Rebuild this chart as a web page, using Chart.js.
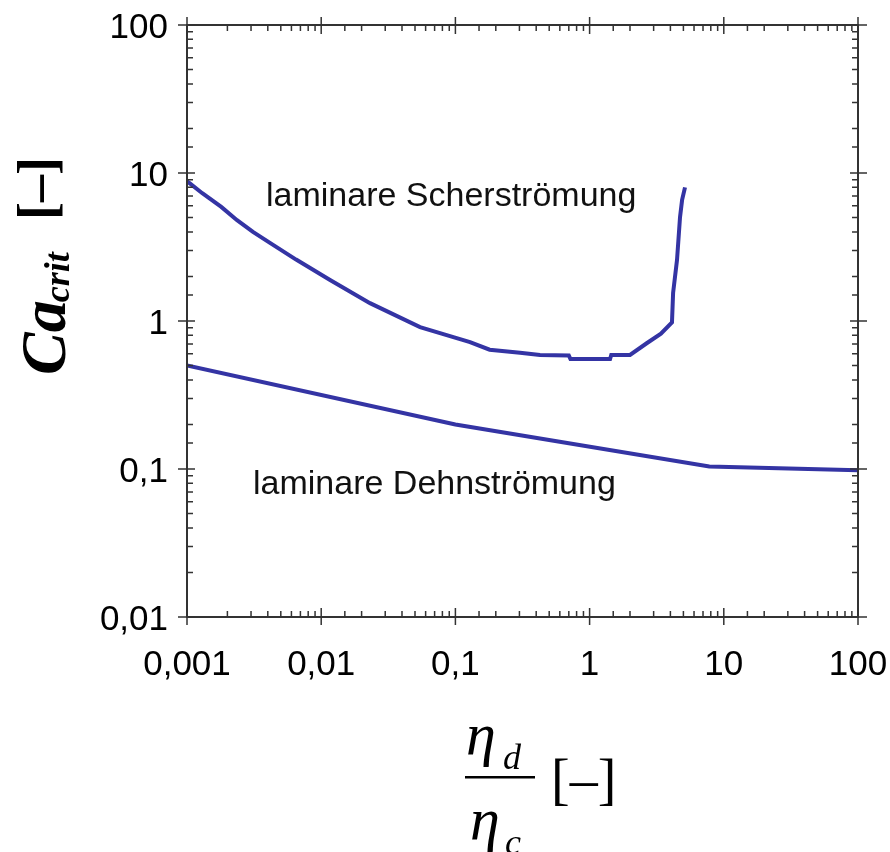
<!DOCTYPE html>
<html>
<head>
<meta charset="utf-8">
<script src="https://cdn.jsdelivr.net/npm/chart.js@4/dist/chart.umd.min.js"></script>
<style>
  html, body { margin: 0; padding: 0; background: #fff; }
  canvas { display: block; }
</style>
</head>
<body>
<canvas id="ca-chart" width="890" height="852"></canvas>
<script>
// decade ticks, German decimal comma
var xTicks = [0.001, 0.01, 0.1, 1, 10, 100];
var xTickLabels = ['0,001', '0,01', '0,1', '1', '10', '100'];
var yTicks = [0.01, 0.1, 1, 10, 100];
var yTickLabels = ['0,01', '0,1', '1', '10', '100'];

// laminare Scherströmung (viscosity ratio vs. critical capillary number)
var scherX = [0.001, 0.00105, 0.0013, 0.0018, 0.00236, 0.0031, 0.00415, 0.0065, 0.01164, 0.0231, 0.0545, 0.1285, 0.18, 0.303, 0.427, 0.70, 0.72, 1.42, 1.45, 2.0, 2.68, 3.4, 4.11, 4.19, 4.48, 4.72, 4.89, 5.14];
var scherY = [8.8, 8.5, 7.3, 5.9, 4.8, 4.0, 3.37, 2.6, 1.89, 1.32, 0.91, 0.72, 0.64, 0.61, 0.59, 0.585, 0.553, 0.553, 0.59, 0.59, 0.71, 0.82, 0.98, 1.55, 2.58, 5.05, 6.58, 8.0];

// laminare Dehnströmung
var dehnX = [0.001, 0.1, 7.8, 100];
var dehnY = [0.5, 0.2, 0.104, 0.098];

var lineColor = '#3434a4';

function toPoints(xs, ys) {
  var pts = [];
  for (var i = 0; i < xs.length; i++) pts.push({x: xs[i], y: ys[i]});
  return pts;
}

function labelFor(list, labels) {
  return function(value) {
    for (var i = 0; i < list.length; i++) {
      if (Math.abs(Math.log10(list[i]) - Math.log10(value)) < 1e-6) return labels[i];
    }
    return '';
  };
}

function isDecade(v) {
  var l = Math.log10(v);
  return Math.abs(l - Math.round(l)) < 1e-6;
}

// frame with tick marks on all four sides, plus annotations and axis titles
var framePlugin = {
  id: 'frame',
  afterDatasetsDraw: function(chart) {
    var ctx = chart.ctx, a = chart.chartArea;
    var xs = chart.scales.x, ys = chart.scales.y;
    ctx.save();
    ctx.strokeStyle = '#333';
    ctx.lineWidth = 2;
    ctx.strokeRect(a.left, a.top, a.right - a.left, a.bottom - a.top);
    ctx.lineWidth = 1.5;
    ctx.beginPath();
    xs.ticks.forEach(function(t) {
      var px = xs.getPixelForValue(t.value);
      if (isDecade(t.value)) {
        ctx.moveTo(px, a.bottom + 8); ctx.lineTo(px, a.bottom - 9);
        ctx.moveTo(px, a.top - 8); ctx.lineTo(px, a.top + 9);
      } else {
        ctx.moveTo(px, a.bottom); ctx.lineTo(px, a.bottom - 6);
        ctx.moveTo(px, a.top); ctx.lineTo(px, a.top + 6);
      }
    });
    ys.ticks.forEach(function(t) {
      var py = ys.getPixelForValue(t.value);
      if (isDecade(t.value)) {
        ctx.moveTo(a.left - 9, py); ctx.lineTo(a.left + 8, py);
        ctx.moveTo(a.right + 9, py); ctx.lineTo(a.right - 8, py);
      } else {
        ctx.moveTo(a.left, py); ctx.lineTo(a.left + 6, py);
        ctx.moveTo(a.right, py); ctx.lineTo(a.right - 6, py);
      }
    });
    ctx.stroke();

    // region labels
    ctx.fillStyle = '#111';
    ctx.font = '34px "Liberation Sans", Arial, sans-serif';
    ctx.textAlign = 'left';
    ctx.textBaseline = 'alphabetic';
    ctx.fillText('laminare Scherströmung', 266, 206);
    ctx.fillText('laminare Dehnströmung', 253, 494);

    // y title: Ca_crit [–], rotated
    ctx.fillStyle = '#000';
    ctx.save();
    ctx.translate(65, 375);
    ctx.rotate(-Math.PI / 2);
    ctx.font = 'italic bold 64px "Liberation Serif", "Times New Roman", serif';
    ctx.fillText('Ca', 0, 0);
    var w = ctx.measureText('Ca').width;
    ctx.font = 'italic bold 36px "Liberation Serif", "Times New Roman", serif';
    ctx.fillText('crit', w - 2, 4);
    ctx.font = 'bold 54px "Liberation Serif", "Times New Roman", serif';
    ctx.fillText('[\u2013]', 155, -10);
    ctx.restore();

    // x title: η_d / η_c [–]
    ctx.font = 'italic 60px "Liberation Serif", "Times New Roman", serif';
    ctx.fillText('\u03b7', 466, 754);
    ctx.fillText('\u03b7', 470, 839);
    ctx.font = 'italic 36px "Liberation Serif", "Times New Roman", serif';
    ctx.fillText('d', 503, 769);
    ctx.fillText('c', 505, 854);
    ctx.fillRect(465, 776, 70, 2.5);
    ctx.font = '56px "Liberation Serif", "Times New Roman", serif';
    ctx.fillText('[\u2013]', 551, 798);
    ctx.restore();
  }
};

var tickFont = {family: '"Liberation Sans", Arial, sans-serif', size: 35};

new Chart(document.getElementById('ca-chart'), {
  type: 'scatter',
  data: {
    datasets: [
      {label: 'laminare Scherströmung', data: toPoints(scherX, scherY), showLine: true,
       borderColor: lineColor, borderWidth: 4, pointRadius: 0, tension: 0},
      {label: 'laminare Dehnströmung', data: toPoints(dehnX, dehnY), showLine: true,
       borderColor: lineColor, borderWidth: 4, pointRadius: 0, tension: 0}
    ]
  },
  options: {
    responsive: false,
    animation: false,
    layout: {padding: {left: 0, top: 25, right: 32, bottom: 0}},
    plugins: {legend: {display: false}, tooltip: {enabled: false}},
    scales: {
      x: {
        type: 'logarithmic', min: 0.001, max: 100,
        grid: {display: false, drawTicks: false},
        border: {display: false},
        ticks: {autoSkip: false, maxRotation: 0, padding: 27, color: '#000', font: tickFont,
                callback: labelFor(xTicks, xTickLabels)},
        afterFit: function(s) { s.height = 852 - 617; s.paddingLeft = 0; s.paddingRight = 0; }
      },
      y: {
        type: 'logarithmic', min: 0.01, max: 100,
        grid: {display: false, drawTicks: false},
        border: {display: false},
        ticks: {autoSkip: false, padding: 19, labelOffset: 3, color: '#000', font: tickFont,
                callback: labelFor(yTicks, yTickLabels)},
        afterFit: function(s) { s.width = 187; s.paddingTop = 0; s.paddingBottom = 0; }
      }
    }
  },
  plugins: [framePlugin]
});
</script>
</body>
</html>
